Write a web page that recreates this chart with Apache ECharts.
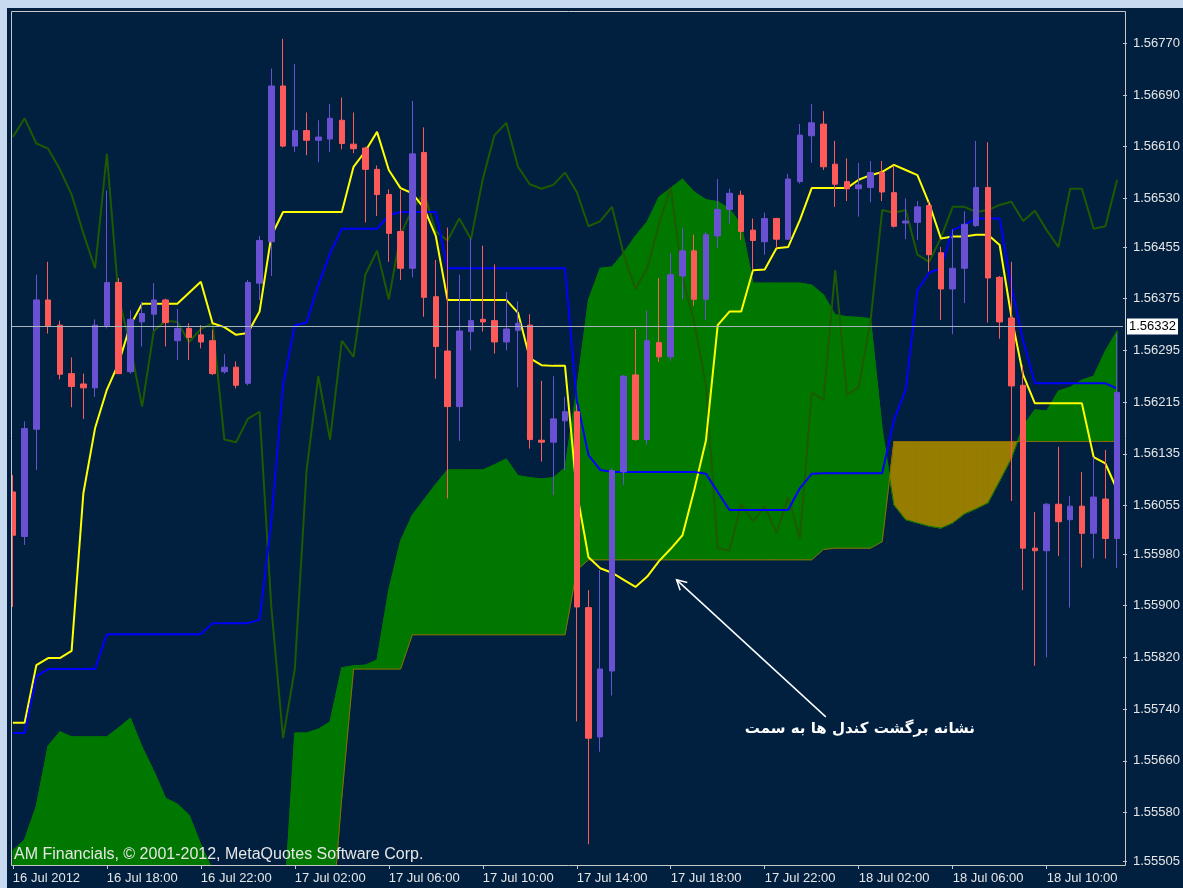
<!DOCTYPE html>
<html>
<head>
<meta charset="utf-8">
<title>GBPUSD M30 Ichimoku</title>
<script src="https://cdn.jsdelivr.net/npm/echarts@6/dist/echarts.min.js"></script>
<style>
  html, body { margin: 0; padding: 0; background: #c8daf0; }
  #chart { position: absolute; left: 7px; top: 8px; width: 1176px; height: 880px; }
</style>
</head>
<body>
<div id="chart"></div>
<script>
// x axis labels, one every 8 bars (M30 bars, 4 hours)
const xTickLabels = ['16 Jul 2012', '16 Jul 18:00', '16 Jul 22:00', '17 Jul 02:00', '17 Jul 06:00', '17 Jul 10:00',
  '17 Jul 14:00', '17 Jul 18:00', '17 Jul 22:00', '18 Jul 02:00', '18 Jul 06:00', '18 Jul 10:00'];
const yTickLabels = ['1.56770', '1.56690', '1.56610', '1.56530', '1.56455', '1.56375', '1.56295', '1.56215', '1.56135',
  '1.56055', '1.55980', '1.55900', '1.55820', '1.55740', '1.55660', '1.55580', '1.55505'];
const bidPrice = 1.56332;

const opens = [
  1.56076, 1.56007, 1.56173, 1.56373, 1.56334, 1.56259, 1.56243, 1.56237, 1.56333, 1.56400,
  1.56262, 1.56339, 1.56351, 1.56373, 1.56310, 1.56329, 1.56319, 1.56310, 1.56262, 1.56269,
  1.56244, 1.56399, 1.56463, 1.56704, 1.56611, 1.56635, 1.56620, 1.56622, 1.56651, 1.56614,
  1.56608, 1.56575, 1.56536, 1.56479, 1.56422, 1.56601, 1.56378, 1.56294, 1.56208, 1.56324,
  1.56343, 1.56341, 1.56308, 1.56326, 1.56334, 1.56156, 1.56153, 1.56186, 1.56200, 1.55897,
  1.55697, 1.55799, 1.56107, 1.56257, 1.56157, 1.56307, 1.56285, 1.56410, 1.56449, 1.56374,
  1.56472, 1.56513, 1.56535, 1.56481, 1.56463, 1.56499, 1.56467, 1.56556, 1.56627, 1.56645,
  1.56583, 1.56556, 1.56545, 1.56547, 1.56570, 1.56539, 1.56492, 1.56493, 1.56519, 1.56446,
  1.56390, 1.56422, 1.56488, 1.56547, 1.56408, 1.56345, 1.56241, 1.55989, 1.55985, 1.56057,
  1.56033, 1.56054, 1.56012, 1.56065, 1.56004];
const closes = [
  1.56009, 1.56174, 1.56373, 1.56333, 1.56258, 1.56239, 1.56237, 1.56334, 1.56400, 1.56259,
  1.56343, 1.56352, 1.56373, 1.56338, 1.56329, 1.56315, 1.56308, 1.56259, 1.56269, 1.56241,
  1.56400, 1.56465, 1.56704, 1.56611, 1.56635, 1.56620, 1.56625, 1.56654, 1.56615, 1.56607,
  1.56575, 1.56536, 1.56476, 1.56422, 1.56599, 1.56377, 1.56301, 1.56208, 1.56325, 1.56341,
  1.56339, 1.56308, 1.56328, 1.56337, 1.56157, 1.56153, 1.56189, 1.56200, 1.55898, 1.55695,
  1.55802, 1.56109, 1.56255, 1.56157, 1.56310, 1.56285, 1.56412, 1.56449, 1.56374, 1.56474,
  1.56513, 1.56538, 1.56479, 1.56465, 1.56499, 1.56467, 1.56560, 1.56628, 1.56647, 1.56579,
  1.56552, 1.56545, 1.56551, 1.56570, 1.56540, 1.56487, 1.56495, 1.56517, 1.56443, 1.56390,
  1.56422, 1.56490, 1.56547, 1.56407, 1.56339, 1.56240, 1.55989, 1.55985, 1.56057, 1.56030,
  1.56054, 1.56012, 1.56068, 1.56004, 1.56230];
const highs = [
  1.56102, 1.56185, 1.56412, 1.56432, 1.56341, 1.56284, 1.56259, 1.56343, 1.56542, 1.56407,
  1.56357, 1.56370, 1.56399, 1.56375, 1.56359, 1.56337, 1.56334, 1.56327, 1.56289, 1.56278,
  1.56404, 1.56472, 1.56731, 1.56777, 1.56738, 1.56663, 1.56651, 1.56676, 1.56686, 1.56663,
  1.56610, 1.56581, 1.56544, 1.56543, 1.56681, 1.56640, 1.56435, 1.56485, 1.56412, 1.56468,
  1.56457, 1.56428, 1.56385, 1.56371, 1.56351, 1.56248, 1.56255, 1.56223, 1.56211, 1.55924,
  1.55955, 1.56113, 1.56257, 1.56328, 1.56357, 1.56407, 1.56446, 1.56485, 1.56474, 1.56478,
  1.56560, 1.56545, 1.56542, 1.56499, 1.56508, 1.56500, 1.56568, 1.56645, 1.56676, 1.56665,
  1.56619, 1.56592, 1.56585, 1.56588, 1.56588, 1.56581, 1.56530, 1.56526, 1.56525, 1.56455,
  1.56482, 1.56510, 1.56619, 1.56617, 1.56410, 1.56432, 1.56272, 1.56045, 1.56059, 1.56146,
  1.56070, 1.56107, 1.56130, 1.56141, 1.56321];
const lows = [
  1.55898, 1.55994, 1.56110, 1.56321, 1.56250, 1.56207, 1.56189, 1.56223, 1.56329, 1.56259,
  1.56259, 1.56301, 1.56326, 1.56301, 1.56280, 1.56280, 1.56298, 1.56257, 1.56259, 1.56236,
  1.56241, 1.56373, 1.56410, 1.56609, 1.56602, 1.56597, 1.56586, 1.56602, 1.56606, 1.56600,
  1.56493, 1.56503, 1.56432, 1.56404, 1.56408, 1.56347, 1.56251, 1.56066, 1.56155, 1.56295,
  1.56324, 1.56290, 1.56295, 1.56238, 1.56143, 1.56123, 1.56071, 1.56110, 1.55721, 1.55531,
  1.55674, 1.55761, 1.56087, 1.56155, 1.56149, 1.56277, 1.56279, 1.56374, 1.56364, 1.56342,
  1.56453, 1.56491, 1.56466, 1.56419, 1.56443, 1.56453, 1.56466, 1.56553, 1.56585, 1.56574,
  1.56517, 1.56526, 1.56502, 1.56524, 1.56526, 1.56485, 1.56467, 1.56466, 1.56417, 1.56342,
  1.56320, 1.56368, 1.56486, 1.56338, 1.56313, 1.56062, 1.55924, 1.55807, 1.55820, 1.55977,
  1.55897, 1.55959, 1.55973, 1.55973, 1.55958];

// Ichimoku lines
const tenkan = [
  1.55719, 1.55719, 1.55808, 1.55819, 1.55819, 1.55830, 1.56074, 1.56175, 1.56234, 1.56275,
  1.56334, 1.56367, 1.56367, 1.56367, 1.56367, 1.56384, 1.56401, 1.56337, 1.56331, 1.56319,
  1.56322, 1.56355, 1.56472, 1.56509, 1.56509, 1.56509, 1.56509, 1.56509, 1.56509, 1.56579,
  1.56603, 1.56633, 1.56574, 1.56546, 1.56538, 1.56515, 1.56472, 1.56373, 1.56373, 1.56373,
  1.56373, 1.56373, 1.56373, 1.56353, 1.56283, 1.56272, 1.56271, 1.56271, 1.56076, 1.55975,
  1.55958, 1.55951, 1.55940, 1.55929, 1.55945, 1.55969, 1.55988, 1.56009, 1.56079, 1.56156,
  1.56334, 1.56355, 1.56355, 1.56419, 1.56420, 1.56453, 1.56455, 1.56497, 1.56546, 1.56546,
  1.56546, 1.56546, 1.56559, 1.56566, 1.56571, 1.56582, 1.56574, 1.56566, 1.56522, 1.56468,
  1.56471, 1.56471, 1.56474, 1.56474, 1.56458, 1.56347, 1.56257, 1.56213, 1.56213, 1.56213,
  1.56213, 1.56213, 1.56130, 1.56120, 1.56079];
const kijun = [
  1.55703, 1.55703, 1.55791, 1.55802, 1.55802, 1.55802, 1.55802, 1.55802, 1.55856, 1.55856,
  1.55856, 1.55856, 1.55856, 1.55856, 1.55856, 1.55856, 1.55856, 1.55873, 1.55873, 1.55873,
  1.55873, 1.55878, 1.56031, 1.56241, 1.56334, 1.56338, 1.56396, 1.56445, 1.56483, 1.56483,
  1.56483, 1.56483, 1.56504, 1.56509, 1.56509, 1.56509, 1.56509, 1.56422, 1.56422, 1.56422,
  1.56422, 1.56422, 1.56422, 1.56422, 1.56422, 1.56422, 1.56422, 1.56422, 1.56218, 1.56133,
  1.56110, 1.56107, 1.56107, 1.56107, 1.56107, 1.56107, 1.56107, 1.56107, 1.56107, 1.56104,
  1.56076, 1.56048, 1.56048, 1.56048, 1.56048, 1.56048, 1.56048, 1.56082, 1.56104, 1.56105,
  1.56105, 1.56105, 1.56105, 1.56105, 1.56105, 1.56187, 1.56234, 1.56388, 1.56415, 1.56422,
  1.56481, 1.56489, 1.56499, 1.56499, 1.56499, 1.56393, 1.56310, 1.56244, 1.56244, 1.56244,
  1.56244, 1.56244, 1.56244, 1.56244, 1.56236];
const chikou = [
  1.56625, 1.56654, 1.56615, 1.56607, 1.56575, 1.56536, 1.56476, 1.56422, 1.56599, 1.56377,
  1.56301, 1.56208, 1.56325, 1.56341, 1.56339, 1.56308, 1.56328, 1.56337, 1.56157, 1.56153,
  1.56189, 1.56200, 1.55898, 1.55695, 1.55802, 1.56109, 1.56255, 1.56157, 1.56310, 1.56285,
  1.56412, 1.56449, 1.56374, 1.56474, 1.56513, 1.56538, 1.56479, 1.56465, 1.56499, 1.56467,
  1.56560, 1.56628, 1.56647, 1.56579, 1.56552, 1.56545, 1.56551, 1.56570, 1.56540, 1.56487,
  1.56495, 1.56517, 1.56443, 1.56390, 1.56422, 1.56490, 1.56547, 1.56407, 1.56339, 1.56240,
  1.55989, 1.55985, 1.56057, 1.56030, 1.56054, 1.56012, 1.56068, 1.56004, 1.56230, 1.56218,
  1.56419, 1.56226, 1.56238, 1.56339, 1.56512, 1.56508, 1.56512, 1.56443, 1.56432, 1.56469,
  1.56517, 1.56517, 1.56509, 1.56512, 1.56520, 1.56525, 1.56495, 1.56511, 1.56481, 1.56455,
  1.56545, 1.56545, 1.56483, 1.56487, 1.56559];
const senkouA = [
  1.55521, 1.55538, 1.55590, 1.55683, 1.55705, 1.55697, 1.55697, 1.55697, 1.55697, 1.55711,
  1.55726, 1.55681, 1.55644, 1.55602, 1.55593, 1.55576, 1.55530, 1.55491, 1.55445, 1.55445,
  1.55445, 1.55445, 1.55445, 1.55406, 1.55703, 1.55703, 1.55709, 1.55720, 1.55804, 1.55807,
  1.55808, 1.55816, 1.55924, 1.56000, 1.56040, 1.56064, 1.56088, 1.56110, 1.56110, 1.56110,
  1.56110, 1.56118, 1.56127, 1.56101, 1.56098, 1.56096, 1.56098, 1.56113, 1.56234, 1.56373,
  1.56422, 1.56424, 1.56446, 1.56472, 1.56494, 1.56532, 1.56546, 1.56560, 1.56540, 1.56528,
  1.56525, 1.56514, 1.56489, 1.56399, 1.56399, 1.56399, 1.56399, 1.56399, 1.56396, 1.56381,
  1.56350, 1.56347, 1.56346, 1.56344, 1.56172, 1.56056, 1.56033, 1.56028, 1.56023, 1.56020,
  1.56028, 1.56042, 1.56050, 1.56059, 1.56093, 1.56128, 1.56178, 1.56203, 1.56201, 1.56232,
  1.56238, 1.56249, 1.56255, 1.56294, 1.56325];
const senkouB = [
  1.55352, 1.55352, 1.55352, 1.55352, 1.55352, 1.55352, 1.55352, 1.55352, 1.55352, 1.55352,
  1.55352, 1.55352, 1.55352, 1.55352, 1.55352, 1.55352, 1.55352, 1.55352, 1.55352, 1.55352,
  1.55352, 1.55352, 1.55352, 1.55352, 1.55352, 1.55352, 1.55352, 1.55377, 1.55604, 1.55802,
  1.55802, 1.55802, 1.55802, 1.55802, 1.55855, 1.55855, 1.55855, 1.55855, 1.55855, 1.55855,
  1.55855, 1.55855, 1.55855, 1.55855, 1.55855, 1.55855, 1.55855, 1.55855, 1.55955, 1.55971,
  1.55971, 1.55971, 1.55971, 1.55971, 1.55971, 1.55971, 1.55971, 1.55971, 1.55971, 1.55971,
  1.55971, 1.55971, 1.55971, 1.55971, 1.55971, 1.55971, 1.55971, 1.55971, 1.55971, 1.55987,
  1.55989, 1.55989, 1.55989, 1.55989, 1.55999, 1.56154, 1.56154, 1.56154, 1.56154, 1.56154,
  1.56154, 1.56154, 1.56154, 1.56154, 1.56154, 1.56154, 1.56154, 1.56154, 1.56154, 1.56154,
  1.56154, 1.56154, 1.56154, 1.56154, 1.56154];

const copyrightText = 'AM Financials, \u00a9 2001-2012, MetaQuotes Software Corp.';
const noteText = 'نشانه برگشت کندل ها به سمت';
// annotation anchors as [bar index, price]
const arrowTip = [56.5, 1.55940];
const arrowTail = [69.2, 1.55728];
const noteAnchor = [81.9, 1.55709];

const BG = '#012040';
const FRAME = '#c8c8c8';
const TEXT = '#e6e6e6';
const BULL = '#6a50d2';
const BEAR = '#ff5a5a';
const KUMO_UP = '#007800';
const KUMO_DOWN = '#967d00';
const FONT = '"Liberation Sans", Arial, sans-serif';

// bar times, 30 minutes apart from 16 Jul 14:00
const categories = [];
for (let k = 0; k < opens.length; k++) {
  const m = 14 * 60 + 30 * k;
  const day = 16 + Math.floor(m / 1440);
  const hh = Math.floor((m % 1440) / 60), mm = m % 60;
  categories.push(day + ' Jul ' + String(hh).padStart(2, '0') + ':' + String(mm).padStart(2, '0'));
}

const candles = opens.map((o, i) => [o, closes[i], lows[i], highs[i]]);
const kumoRows = senkouA.slice(0, -1).map((a, i) => [i, a, senkouB[i], senkouA[i + 1], senkouB[i + 1]]);

// one cloud slice between bar i and i+1, split where span A crosses span B
function renderKumo(params, api) {
  const i = api.value(0);
  const a0 = api.value(1), b0 = api.value(2), a1 = api.value(3), b1 = api.value(4);
  const pa0 = api.coord([i, a0]), pa1 = api.coord([i + 1, a1]);
  const pb0 = api.coord([i, b0]), pb1 = api.coord([i + 1, b1]);
  const d0 = a0 - b0, d1 = a1 - b1;
  const parts = [];
  if (d0 * d1 >= 0) {
    parts.push([[pa0, pa1, pb1, pb0], d0 + d1 >= 0]);
  } else {
    const t = d0 / (d0 - d1);
    const c = [pa0[0] + (pa1[0] - pa0[0]) * t, pa0[1] + (pa1[1] - pa0[1]) * t];
    parts.push([[pa0, c, pb0], d0 > 0]);
    parts.push([[c, pa1, pb1], d1 > 0]);
  }
  return {
    type: 'group',
    children: parts.map(([pts, up]) => ({
      type: 'polygon',
      shape: { points: pts },
      style: { fill: up ? KUMO_UP : KUMO_DOWN, stroke: up ? KUMO_UP : KUMO_DOWN, lineWidth: 1 }
    }))
  };
}

const chart = echarts.init(document.getElementById('chart'));
chart.setOption({
  animation: false,
  backgroundColor: BG,
  grid: { left: 0, right: 59.75, top: 3, bottom: 23 },
  xAxis: {
    type: 'category',
    data: categories,
    boundaryGap: true,
    axisLine: { show: false },
    axisTick: { show: true, interval: 7, alignWithLabel: true, length: 4, lineStyle: { color: FRAME } },
    axisLabel: {
      interval: 7, align: 'left', margin: 7, color: TEXT, fontFamily: FONT, fontSize: 13,
      formatter: (v, idx) => (idx % 8 === 0 ? xTickLabels[idx / 8] : '')
    },
    splitLine: { show: false }
  },
  yAxis: {
    type: 'value',
    position: 'right',
    min: 1.5549884,
    max: 1.5682,
    splitLine: { show: false },
    axisLine: { show: false },
    axisTick: { show: true, length: 4, customValues: yTickLabels.map(Number), lineStyle: { color: FRAME } },
    axisLabel: {
      customValues: yTickLabels.map(Number), margin: 10, color: TEXT, fontFamily: FONT, fontSize: 13,
      formatter: v => v.toFixed(5)
    }
  },
  series: [
    {
      name: 'Kumo', type: 'custom', z: 1, clip: true,
      renderItem: renderKumo, data: kumoRows, encode: { x: 0, y: [1, 2, 3, 4] }
    },
    {
      name: 'Senkou Span A', type: 'line', z: 2, data: senkouA, symbol: 'none',
      lineStyle: { color: KUMO_UP, width: 1 }
    },
    {
      name: 'Senkou Span B', type: 'line', z: 2, data: senkouB, symbol: 'none',
      lineStyle: { color: '#8a6a08', width: 1 }
    },
    {
      name: 'Chikou Span', type: 'line', z: 3, data: chikou, symbol: 'none',
      lineStyle: { color: '#1d5a00', width: 2 }
    },
    {
      name: 'Tenkan-sen', type: 'line', z: 3, data: tenkan, symbol: 'none',
      lineStyle: { color: '#ffff00', width: 2 }
    },
    {
      name: 'Kijun-sen', type: 'line', z: 3, data: kijun, symbol: 'none',
      lineStyle: { color: '#0000ff', width: 2 }
    },
    {
      name: 'GBPUSD', type: 'candlestick', z: 4, data: candles, barWidth: 6,
      itemStyle: { color: BULL, color0: BEAR, borderColor: BULL, borderColor0: BEAR, borderWidth: 1 },
      markLine: {
        silent: true, symbol: ['none', 'none'], precision: 5,
        lineStyle: { color: '#a9b3bd', width: 1, type: 'solid' },
        label: {
          position: 'end', distance: 4, formatter: p => Number(p.value).toFixed(5),
          backgroundColor: '#ffffff', color: '#000000', padding: [2, 2, 1, 2],
          fontFamily: FONT, fontSize: 13
        },
        data: [{ yAxis: bidPrice }]
      }
    }
  ],
  graphic: [
    { id: 'leftCover', type: 'rect', z: 90, silent: true, shape: { x: 0, y: 0, width: 4, height: 858 }, style: { fill: BG } },
    { id: 'frame', type: 'rect', z: 100, silent: true, shape: { x: 4.5, y: 3.5, width: 1114, height: 854 }, style: { fill: null, stroke: FRAME, lineWidth: 1 } },
    { id: 'copyright', type: 'text', z: 100, left: 7, top: 839, style: { text: copyrightText, fill: TEXT, font: '16px ' + FONT } }
  ]
});

// annotation placed through the axes
function toPx(idx, price) {
  const i0 = Math.floor(idx), f = idx - i0;
  const a = chart.convertToPixel({ gridIndex: 0 }, [i0, price]);
  const b = chart.convertToPixel({ gridIndex: 0 }, [i0 + 1, price]);
  return [a[0] + (b[0] - a[0]) * f, a[1]];
}
const tip = toPx(arrowTip[0], arrowTip[1]);
const tail = toPx(arrowTail[0], arrowTail[1]);
const note = toPx(noteAnchor[0], noteAnchor[1]);
const ang = Math.atan2(tail[1] - tip[1], tail[0] - tip[0]);
const head = d => [tip[0] + 11 * Math.cos(ang + d), tip[1] + 11 * Math.sin(ang + d)];

chart.setOption({
  graphic: [
    { id: 'arrowShaft', type: 'line', z: 60, silent: true, shape: { x1: tail[0], y1: tail[1], x2: tip[0], y2: tip[1] }, style: { stroke: '#ffffff', lineWidth: 1.5 } },
    { id: 'arrowHead', type: 'polyline', z: 60, silent: true, shape: { points: [head(0.5), tip, head(-0.5)] }, style: { stroke: '#ffffff', fill: null, lineWidth: 1.5 } },
    { id: 'note', type: 'text', z: 60, silent: true, x: note[0], y: note[1], style: { text: noteText, fill: '#ffffff', font: 'bold 15px "DejaVu Sans", sans-serif', align: 'right', verticalAlign: 'middle' } }
  ]
});
</script>
</body>
</html>
